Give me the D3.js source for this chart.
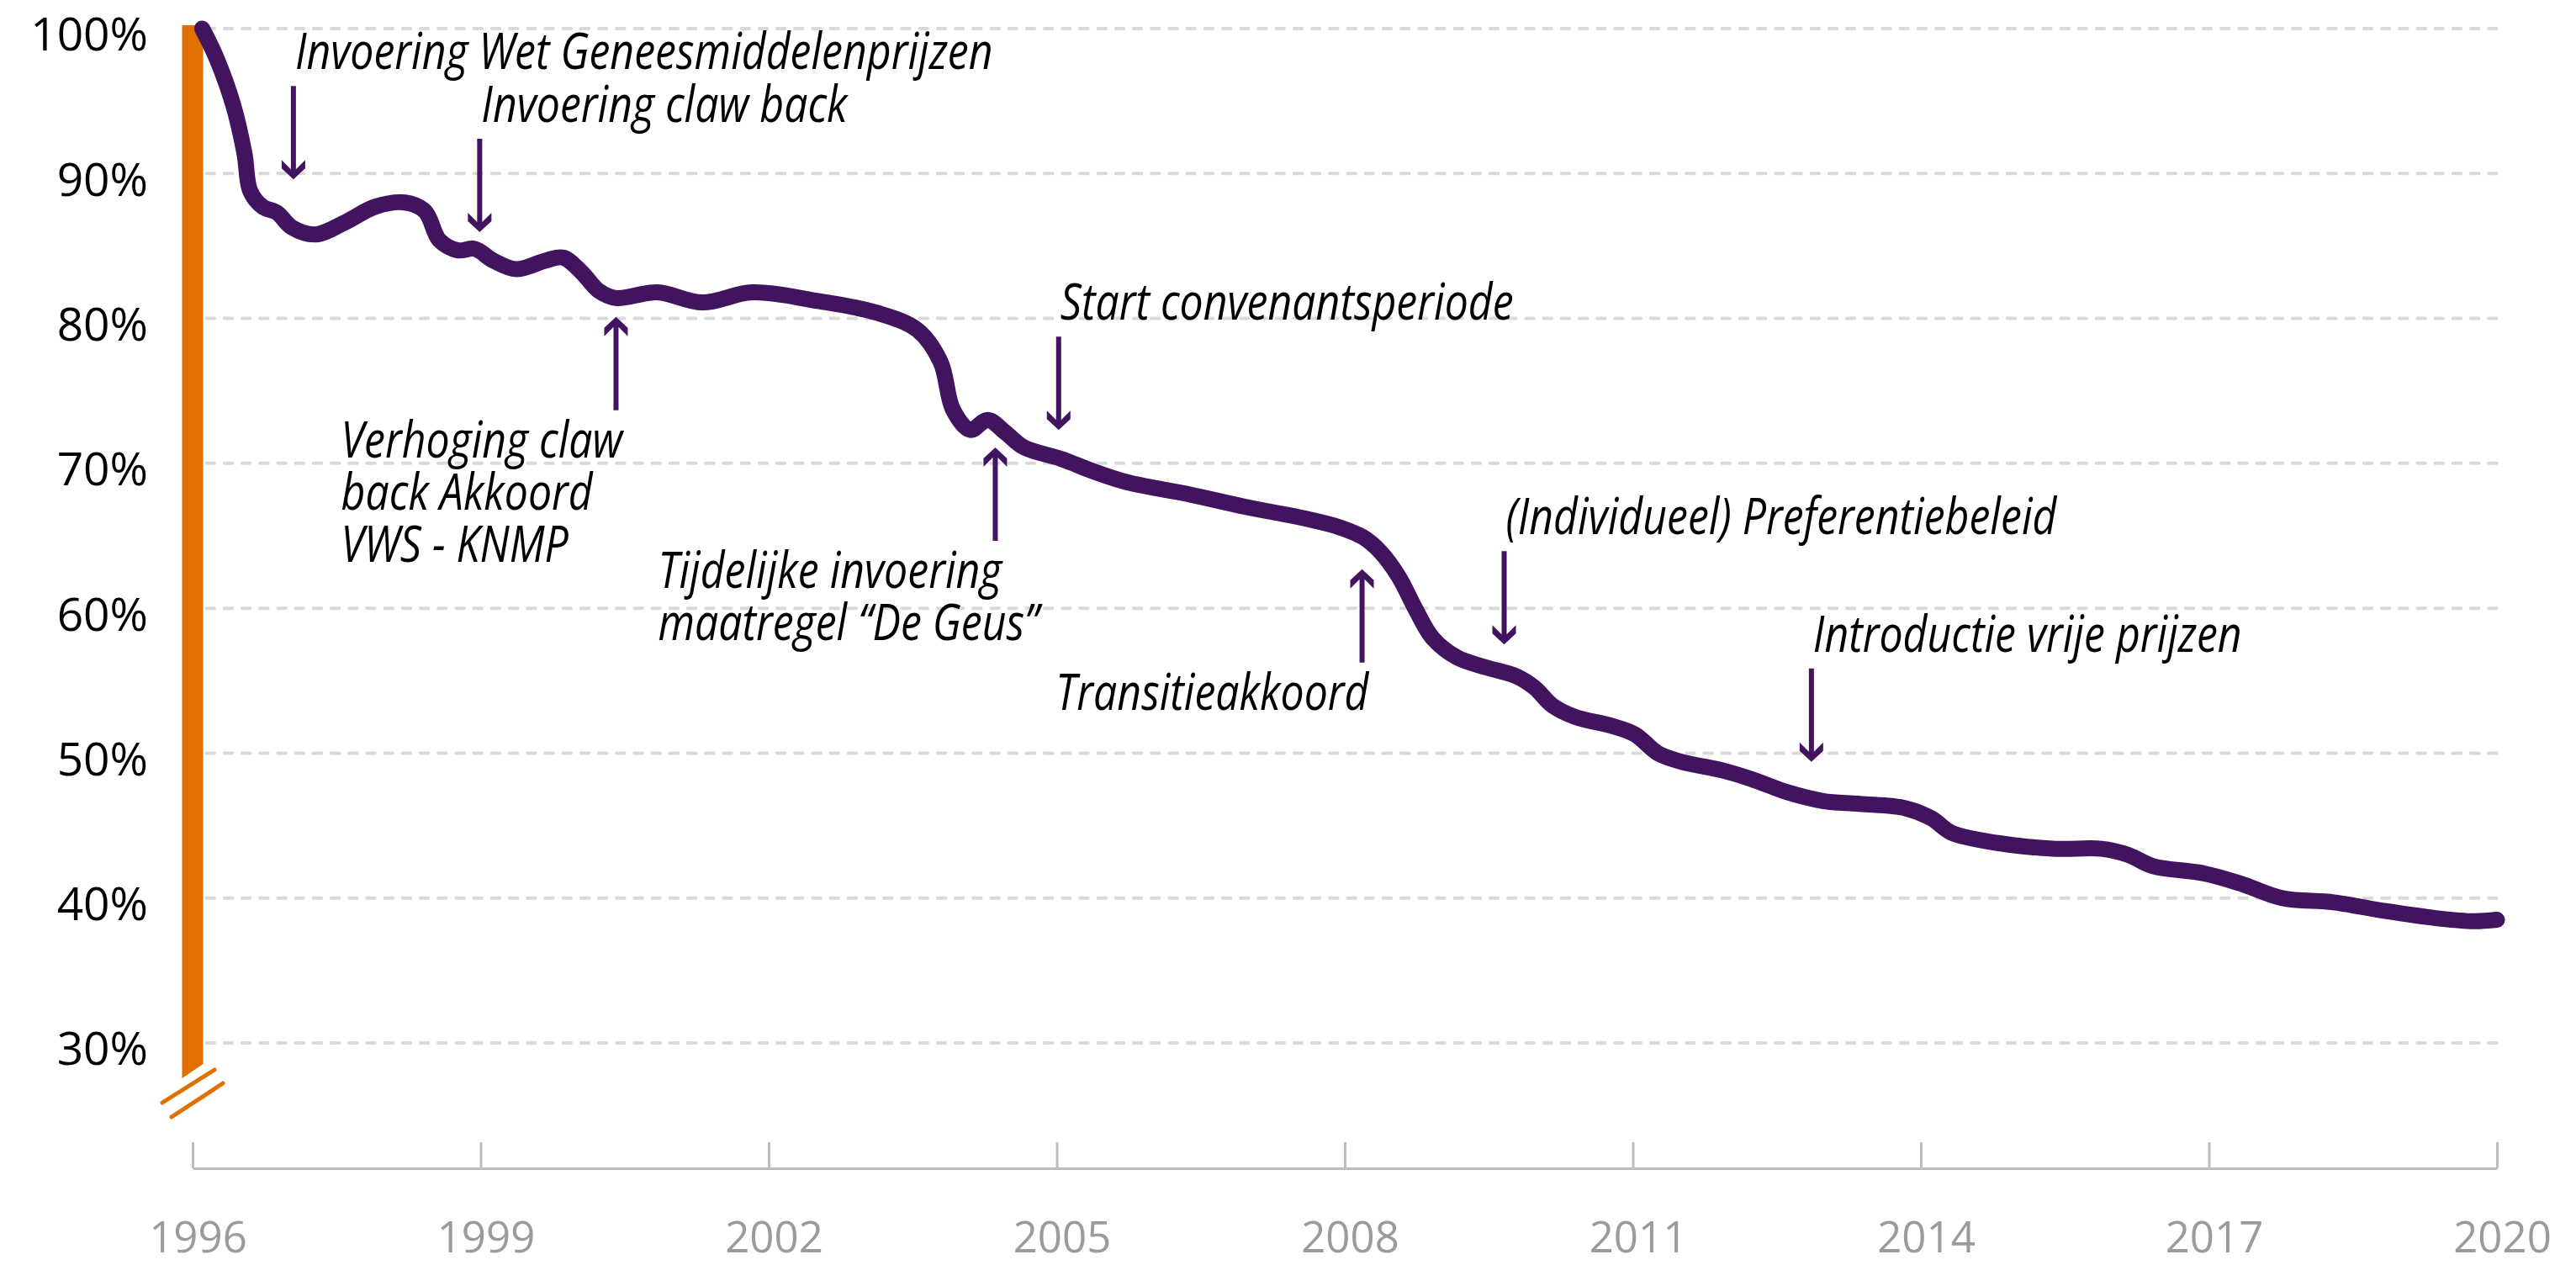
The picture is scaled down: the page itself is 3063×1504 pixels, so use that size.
<!DOCTYPE html>
<html>
<head>
<meta charset="utf-8">
<script src="https://cdn.jsdelivr.net/npm/d3@7"></script>
<style>
  html, body { margin: 0; padding: 0; background: #fff; }
  svg { display: block; }
  .note { font-family: "Liberation Sans Narrow", "Arial Narrow", "Open Sans", sans-serif; font-style: italic; font-size: 61px; fill: #000; }
</style>
</head>
<body>
<svg id="chart" width="3063" height="1504"></svg>
<script>
// share of the 1996 level (%)
var years = [1996.1, 1996.24, 1996.42, 1996.54, 1996.6, 1996.73, 1996.88, 1997.03, 1997.28, 1997.58,
  1997.9, 1998.21, 1998.42, 1998.57, 1998.76, 1998.94, 1999.13, 1999.37, 1999.68, 1999.86,
  2000.05, 2000.23, 2000.41, 2000.84, 2001.31, 2001.83, 2002.51, 2003.12, 2003.55, 2003.79,
  2003.92, 2004.1, 2004.28, 2004.47, 2004.66, 2005.05, 2005.36, 2005.73, 2006.35, 2006.96,
  2007.58, 2007.94, 2008.19, 2008.37, 2008.56, 2008.74, 2008.92, 2009.17, 2009.48, 2009.79,
  2009.98, 2010.16, 2010.4, 2010.77, 2011.02, 2011.26, 2011.51, 2011.94, 2012.24, 2012.61,
  2012.98, 2013.36, 2013.84, 2014.11, 2014.32, 2014.8, 2015.4, 2015.88, 2016.15, 2016.42,
  2016.95, 2017.33, 2017.76, 2018.3, 2018.84, 2019.38, 2019.76, 2020.0];
var shares = [100, 98.1, 94.8, 91.4, 88.8, 87.7, 87.3, 86.3, 85.8, 86.6,
  87.7, 88.0, 87.4, 85.4, 84.7, 84.8, 84.0, 83.4, 84.0, 84.2,
  83.2, 81.9, 81.4, 81.8, 81.1, 81.8, 81.2, 80.4, 79.2, 77.0,
  73.7, 72.3, 73.0, 72.1, 71.1, 70.3, 69.5, 68.7, 67.9, 67.0,
  66.2, 65.6, 64.9, 63.9, 62.2, 59.9, 57.9, 56.6, 55.9, 55.3,
  54.5, 53.3, 52.5, 51.9, 51.3, 50.0, 49.4, 48.8, 48.2, 47.3,
  46.7, 46.5, 46.2, 45.5, 44.5, 43.8, 43.4, 43.4, 43.0, 42.2,
  41.7, 41.0, 40.0, 39.7, 39.1, 38.6, 38.4, 38.5];

var xTicks = [1996, 1999, 2002, 2005, 2008, 2011, 2014, 2017, 2020];
var yTicks = [30, 40, 50, 60, 70, 80, 90, 100];

// annotations: text lines, where the arrow points, and which way
var noteTexts = [
  ["Invoering Wet Geneesmiddelenprijzen"],
  ["Invoering claw back"],
  ["Verhoging claw", "back Akkoord", "VWS - KNMP"],
  ["Tijdelijke invoering", "maatregel \u201cDe Geus\u201d"],
  ["Start convenantsperiode"],
  ["Transitieakkoord"],
  ["(Individueel) Preferentiebeleid"],
  ["Introductie vrije prijzen"]
];
var noteYears = [1997.05, 1998.99, 2000.41, 2004.36, 2005.02, 2008.18, 2009.66, 2012.86];
var noteValues = [89.6, 85.95, 80.1, 71.1, 72.3, 62.7, 57.5, 49.4];
var noteDirs = ["down", "down", "up", "up", "down", "up", "down", "down"];

var purple = "#42145f";
var orange = "#e17000";

var svg = d3.select("#chart");
var x = d3.scaleLinear().domain([1996, 2020]).range([229, 2969]);
var y = d3.scaleLinear().domain([30, 100]).range([1240, 34]);

var barHalf = 12.5;

// dashed grid
svg.append("g")
  .selectAll("line")
  .data(yTicks)
  .enter()
  .append("line")
  .attr("x1", x(1996) + barHalf + 4)
  .attr("x2", x(2020))
  .attr("y1", function (d) { return y(d); })
  .attr("y2", function (d) { return y(d); })
  .attr("stroke", "#d9d9d9")
  .attr("stroke-width", 4)
  .attr("stroke-linecap", "round")
  .attr("stroke-dasharray", "9.5 11.7");

// y labels
var yAxis = d3.axisLeft(y)
  .tickValues(yTicks)
  .tickSize(0)
  .tickPadding(0)
  .tickFormat(function (d) { return d + "%"; });
var gy = svg.append("g").attr("transform", "translate(176,0)").call(yAxis);
gy.select(".domain").remove();
gy.selectAll("text")
  .attr("dy", "0.47em")
  .style("font-family", "'Open Sans', sans-serif")
  .style("font-size", "55px")
  .style("fill", "#000");

// x axis with upward ticks
var xAxis = d3.axisBottom(x)
  .tickValues(xTicks)
  .tickFormat(d3.format("d"))
  .tickSizeInner(-31)
  .tickSizeOuter(0)
  .tickPadding(64);
var gx = svg.append("g").attr("transform", "translate(0,1389)").call(xAxis);
gx.select(".domain").attr("stroke", "#bdbdbd").attr("stroke-width", 3);
gx.selectAll(".tick line").attr("stroke", "#bdbdbd").attr("stroke-width", 3);
gx.selectAll("text")
  .attr("dx", 6)
  .style("font-family", "'Open Sans', sans-serif")
  .style("font-size", "51px")
  .style("fill", "#9b9b9b");

// orange y bar with a slanted cut and break marks
var cx = x(1996);
var yb = y(30);
svg.append("path")
  .attr("d", "M" + (cx - barHalf) + "," + (y(100) - 4) +
    "H" + (cx + barHalf) +
    "V" + (yb + 25) +
    "L" + (cx - barHalf) + "," + (yb + 42) + "Z")
  .attr("fill", orange);
[[-36, 71, 26, 32], [-25, 88, 36, 48]].forEach(function (b) {
  svg.append("line")
    .attr("x1", cx + b[0]).attr("y1", yb + b[1])
    .attr("x2", cx + b[2]).attr("y2", yb + b[3])
    .attr("stroke", orange)
    .attr("stroke-width", 5)
    .attr("stroke-linecap", "round");
});

// the line
var line = d3.line()
  .x(function (d) { return x(d[0]); })
  .y(function (d) { return y(d[1]); })
  .curve(d3.curveCatmullRom.alpha(0.5));
svg.append("path")
  .datum(years.map(function (yr, i) { return [yr, shares[i]]; }))
  .attr("d", line)
  .attr("fill", "none")
  .attr("stroke", purple)
  .attr("stroke-width", 19)
  .attr("stroke-linecap", "round")
  .attr("stroke-linejoin", "round");

// arrows + notes
var arrowLen = 111;
var squeeze = 0.82; // the original lettering is a condensed italic
function arrowPath(dir) {
  // tip at 0,0, pointing down; flipped for up
  var s = dir === "down" ? 1 : -1;
  var p = [[0, 0], [-14, -13], [-14, -23], [-3, -12], [-3, -arrowLen], [3, -arrowLen], [3, -12], [14, -23], [14, -13]];
  return "M" + p.map(function (q) { return q[0] + "," + q[1] * s; }).join("L") + "Z";
}

var notes = svg.append("g");
noteTexts.forEach(function (lines, i) {
  var ax = x(noteYears[i]);
  var ay = y(noteValues[i]);
  var dir = noteDirs[i];
  notes.append("path")
    .attr("transform", "translate(" + ax + "," + ay + ")")
    .attr("d", arrowPath(dir))
    .attr("fill", purple);

  var g = notes.append("g");
  var t = g.append("text").attr("class", "note");
  lines.forEach(function (l, j) {
    t.append("tspan").attr("x", 0).attr("y", j * 62).text(l);
  });
  if (dir === "down") {
    g.attr("transform", "translate(" + (ax + 2) + "," + (ay - arrowLen - 20) + ") scale(" + squeeze + ",1)");
  } else {
    var w = t.select("tspan").node().getComputedTextLength() * squeeze;
    g.attr("transform", "translate(" + (ax + 8 - w) + "," + (ay + arrowLen + 56) + ") scale(" + squeeze + ",1)");
  }
});
</script>
</body>
</html>
